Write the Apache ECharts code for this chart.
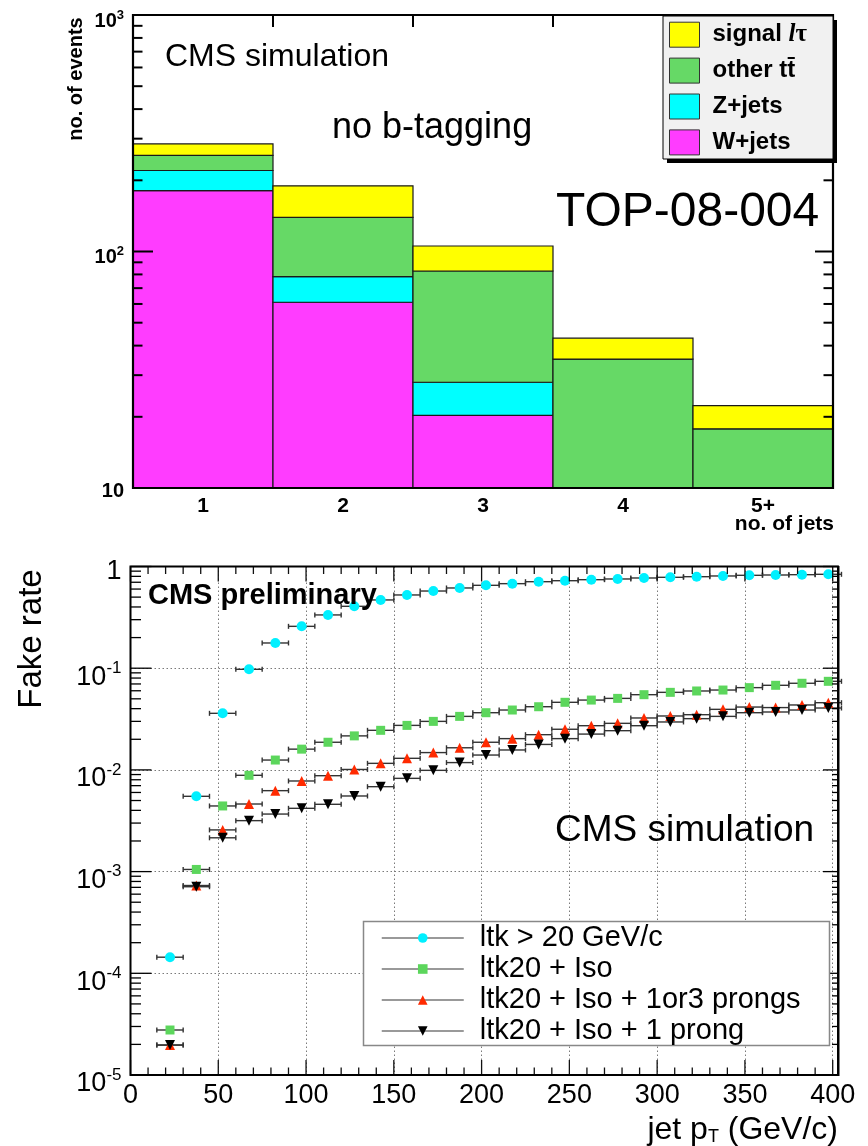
<!DOCTYPE html>
<html>
<head>
<meta charset="utf-8">
<script src="https://cdn.jsdelivr.net/npm/echarts@6/dist/echarts.min.js"></script>
<style>
  html, body { margin: 0; padding: 0; background: #fff; width: 868px; height: 1146px; overflow: hidden; }
  #chart { width: 868px; height: 1146px; }
</style>
</head>
<body>
<div id="chart"></div>
<script>
// ---------- upper panel: events per jet multiplicity (stacked) ----------
const jetBins    = ['1', '2', '3', '4', '5+'];
const wJets      = [181, 61, 20.3, 0, 0];
const zJets      = [39, 17.3, 7.7, 0, 0];
const otherTT    = [35, 61.2, 54.7, 35.1, 17.8];
const signalLTau = [30, 50, 22.8, 7.9, 4.5];
const eventMajorTicks = [100];
const eventMinorTicks = [20, 30, 40, 50, 60, 70, 80, 90, 200, 300, 400, 500, 600, 700, 800, 900];

// ---------- lower panel: fake rate vs jet pT ----------
const jetPt = [22.5, 37.5, 52.5, 67.5, 82.5, 97.5, 112.5, 127.5, 142.5, 157.5, 172.5, 187.5, 202.5,
               217.5, 232.5, 247.5, 262.5, 277.5, 292.5, 307.5, 322.5, 337.5, 352.5, 367.5, 382.5, 397.5];
const jetPtHalfBin = 7.5;
const rateLtk = [1.44e-4, 5.5e-3, 0.036, 0.0975, 0.177, 0.258, 0.334, 0.406, 0.469, 0.525, 0.574, 0.615, 0.653,
                 0.678, 0.709, 0.725, 0.742, 0.754, 0.771, 0.783, 0.794, 0.807, 0.819, 0.825, 0.831, 0.838];
const rateLtkIso = [2.77e-5, 1.05e-3, 4.42e-3, 8.85e-3, 0.0125, 0.0160, 0.0187, 0.0216, 0.0245, 0.0274, 0.0300, 0.0336, 0.0365,
                    0.0388, 0.0418, 0.0462, 0.0486, 0.0505, 0.0549, 0.0579, 0.0597, 0.0610, 0.0644, 0.0679, 0.0711, 0.0743];
const rateLtkIso13 = [1.97e-5, 7.3e-4, 2.57e-3, 4.62e-3, 6.25e-3, 7.78e-3, 8.77e-3, 0.0101, 0.0116, 0.0130, 0.0148, 0.0165, 0.0187,
                      0.0203, 0.0222, 0.0251, 0.0272, 0.0287, 0.0324, 0.0339, 0.0349, 0.0394, 0.0415, 0.0410, 0.0435, 0.0458];
const rateLtkIso1 = [1.97e-5, 7.1e-4, 2.15e-3, 3.17e-3, 3.68e-3, 4.19e-3, 4.59e-3, 5.54e-3, 6.84e-3, 8.26e-3, 9.9e-3, 0.0118, 0.0140,
                     0.0157, 0.0178, 0.0203, 0.0225, 0.0243, 0.0272, 0.0296, 0.0319, 0.0336, 0.0365, 0.0371, 0.0388, 0.0406];
const ptMajorTicks = [0, 50, 100, 150, 200, 250, 300, 350, 400];
const ptMinorTicks = [10, 20, 30, 40, 60, 70, 80, 90, 110, 120, 130, 140, 160, 170, 180, 190, 210, 220, 230, 240,
                      260, 270, 280, 290, 310, 320, 330, 340, 360, 370, 380, 390];
const rateDecades = [1e-5, 1e-4, 1e-3, 1e-2, 1e-1, 1];
const decadeSteps = [2, 3, 4, 5, 6, 7, 8, 9];

const FONT = '"Liberation Sans", Arial, Helvetica, sans-serif';
const SERIF = '"Liberation Serif", "DejaVu Serif", serif';

// stacked histogram layers, bottom to top
const layers = [
  { name: 'W+jets',    values: wJets,      color: '#ff3cff' },
  { name: 'Z+jets',    values: zJets,      color: '#00ffff' },
  { name: 'other tt̄', values: otherTT,    color: '#66d966' },
  { name: 'signal lτ', values: signalLTau, color: '#ffff00' }
];

function histRect(params, api) {
  const cs = params.coordSys;
  const i = api.value(0), lo = api.value(1), hi = api.value(2);
  const bw = api.size([1, 0])[0];
  const top = api.coord([i, hi]);
  const bottomEdge = cs.y + cs.height;
  const yLo = lo > 0 ? Math.min(api.coord([i, lo])[1], bottomEdge) : bottomEdge;
  return {
    type: 'rect',
    shape: { x: top[0] - bw / 2, y: top[1], width: bw, height: yLo - top[1] },
    style: { fill: api.visual('color'), stroke: '#1a1a1a', lineWidth: 1.2 }
  };
}

const running = jetBins.map(() => 0);
const histSeries = layers.map(layer => {
  const data = [];
  layer.values.forEach((v, i) => {
    if (v > 0) data.push([i, running[i], running[i] + v]);
    running[i] += v;
  });
  return {
    type: 'custom', name: layer.name, xAxisIndex: 0, yAxisIndex: 0,
    renderItem: histRect, encode: { x: 0, y: 2 }, data: data,
    itemStyle: { color: layer.color }, z: 1, silent: true
  };
});

// tick marks on the left/right frame edges (value, left length, right length, width, right edge)
function yTicks(params, api) {
  const cs = params.coordSys;
  const y = api.coord([api.value(0), api.value(1)])[1];
  const l = api.value(2), r = api.value(3), w = api.value(4);
  const xr = api.value(5) || (cs.x + cs.width);
  return {
    type: 'group', children: [
      { type: 'line', shape: { x1: cs.x, y1: y, x2: cs.x + l, y2: y }, style: { stroke: '#000', lineWidth: w } },
      { type: 'line', shape: { x1: xr, y1: y, x2: xr - r, y2: y }, style: { stroke: '#000', lineWidth: w } }
    ]
  };
}
// tick marks on the bottom/top frame edges and their labels (value, dummy y, length, labelled)
function xTicks(params, api) {
  const cs = params.coordSys;
  const v = api.value(0);
  const x = api.coord([v, api.value(1)])[0];
  const len = api.value(2);
  const children = [
    { type: 'line', shape: { x1: x, y1: cs.y + cs.height, x2: x, y2: cs.y + cs.height - len }, style: { stroke: '#111', lineWidth: 1.3 } },
    { type: 'line', shape: { x1: x, y1: cs.y, x2: x, y2: cs.y + len }, style: { stroke: '#111', lineWidth: 1.3 } }
  ];
  if (api.value(3) === 1) {
    children.push({ type: 'text', x: x, y: cs.y + cs.height + PT_LABEL_MARGIN,
      style: { text: String(v), font: '27px ' + FONT, fill: '#000', align: 'center', verticalAlign: 'top' } });
  }
  return { type: 'group', children: children };
}

// lower frame reaches a little past the 400 GeV/c tick
const RATE_FRAME = { x: 130.5, y: 566.5, width: 707.5, height: 508.5 };
const RATE_GRID_WIDTH = 702.2;   // 0 .. 400 GeV/c
const PT_LABEL_MARGIN = 7;

const eventTickData = eventMinorTicks.map(v => [0, v, 9.5, 9.5, 2, 0])
  .concat(eventMajorTicks.map(v => [0, v, 20, 18, 2, 0]));

const rateTickData = [];
rateDecades.forEach((d, k) => {
  rateTickData.push([0, d, 21, 15, 1.3, RATE_FRAME.x + RATE_FRAME.width]);
  if (k < rateDecades.length - 1) {
    decadeSteps.forEach(s => rateTickData.push([0, d * s, 10.5, 6, 1.3, RATE_FRAME.x + RATE_FRAME.width]));
  }
});
const ptTickData = ptMajorTicks.map(v => [v, 0.01, 15, 1]).concat(ptMinorTicks.map(v => [v, 0.01, 7.5, 0]));

// horizontal bin-width error bars with small end caps
function errBar(params, api) {
  const x = api.value(0), y = api.value(1);
  const a = api.coord([x - jetPtHalfBin, y]);
  const b = api.coord([x + jetPtHalfBin, y]);
  const st = { stroke: '#333', lineWidth: 1.4 };
  return {
    type: 'group', children: [
      { type: 'line', shape: { x1: a[0], y1: a[1], x2: b[0], y2: b[1] }, style: st },
      { type: 'line', shape: { x1: a[0], y1: a[1] - 2.5, x2: a[0], y2: a[1] + 2.5 }, style: st },
      { type: 'line', shape: { x1: b[0], y1: b[1] - 2.5, x2: b[0], y2: b[1] + 2.5 }, style: st }
    ]
  };
}

const rateSets = [
  { name: 'ltk > 20 GeV/c',            values: rateLtk,      color: '#00f0ff', symbol: 'circle',   size: 10, rotate: 0 },
  { name: 'ltk20 + Iso',               values: rateLtkIso,   color: '#5cd65c', symbol: 'rect',     size: 9,  rotate: 0 },
  { name: 'ltk20 + Iso + 1or3 prongs', values: rateLtkIso13, color: '#ff2a00', symbol: 'triangle', size: 10, rotate: 0 },
  { name: 'ltk20 + Iso + 1 prong',     values: rateLtkIso1,  color: '#000000', symbol: 'triangle', size: 10, rotate: 180 }
];

const rateSeries = [];
rateSets.forEach(s => {
  rateSeries.push({
    type: 'custom', xAxisIndex: 2, yAxisIndex: 1, renderItem: errBar,
    encode: { x: 0, y: 1 }, data: jetPt.map((x, i) => [x, s.values[i]]), z: 3, silent: true
  });
});
rateSets.forEach(s => {
  rateSeries.push({
    type: 'line', name: s.name, xAxisIndex: 2, yAxisIndex: 1,
    data: jetPt.map((x, i) => [x, s.values[i]]),
    symbol: s.symbol, symbolSize: s.size, symbolRotate: s.rotate, showAllSymbol: true,
    lineStyle: { opacity: 0 }, itemStyle: { color: s.color }, z: 4, silent: true
  });
});

const supRichTop = {
  b:   { fontFamily: FONT, fontWeight: 'bold', fontSize: 20, lineHeight: 20, verticalAlign: 'bottom', color: '#000' },
  s:   { fontFamily: FONT, fontWeight: 'bold', fontSize: 13, lineHeight: 32, color: '#000' },
  one: { fontFamily: FONT, fontWeight: 'bold', fontSize: 20, lineHeight: 20, padding: [7, 0, 0, 0], color: '#000' }
};
const supRichBottom = {
  b:   { fontFamily: FONT, fontSize: 27, lineHeight: 27, verticalAlign: 'bottom', color: '#000' },
  s:   { fontFamily: FONT, fontSize: 17, lineHeight: 45, color: '#000' },
  one: { fontFamily: FONT, fontSize: 27, lineHeight: 27, padding: [10, 0, 0, 0], color: '#000' }
};

const option = {
  animation: false,
  backgroundColor: '#fff',
  grid: [
    { left: 133, top: 15, width: 700, height: 473, show: true, borderColor: '#000', borderWidth: 2.2, backgroundColor: 'transparent', z: 3 },
    { left: RATE_FRAME.x, top: RATE_FRAME.y, width: RATE_GRID_WIDTH, height: RATE_FRAME.height, show: false }
  ],
  xAxis: [
    { gridIndex: 0, type: 'category', data: jetBins, position: 'bottom',
      axisLine: { show: false },
      axisTick: { show: true, inside: true, length: 13, lineStyle: { color: '#000', width: 2 } },
      axisLabel: { fontFamily: FONT, fontWeight: 'bold', fontSize: 21, color: '#000', margin: 8 },
      splitLine: { show: false } },
    { gridIndex: 0, type: 'category', data: jetBins, position: 'top',
      axisLine: { show: false },
      axisTick: { show: true, inside: true, length: 12, lineStyle: { color: '#000', width: 2 } },
      axisLabel: { show: false }, splitLine: { show: false } },
    { gridIndex: 1, type: 'value', min: 0, max: ptMajorTicks[ptMajorTicks.length - 1], interval: 50,
      axisLine: { show: false }, axisTick: { show: false }, axisLabel: { show: false },
      splitLine: { show: true, lineStyle: { color: '#7a7a7a', width: 1, type: [1.5, 2.5] } } }
  ],
  yAxis: [
    { gridIndex: 0, type: 'log', logBase: 10, min: 10, max: 1000,
      axisLine: { show: false }, axisTick: { show: false }, splitLine: { show: false },
      axisLabel: { margin: 9, rich: supRichTop,
        formatter: v => { const e = Math.round(Math.log10(v)); return e === 1 ? '{one|10}' : '{b|10}{s|' + e + '}'; } } },
    { gridIndex: 1, type: 'log', logBase: 10, min: 1e-5, max: 1,
      axisLine: { show: false }, axisTick: { show: false },
      splitLine: { show: true, lineStyle: { color: '#7a7a7a', width: 1, type: [1.5, 2.5] } },
      axisLabel: { margin: 9, rich: supRichBottom,
        formatter: v => { const e = Math.round(Math.log10(v)); return e === 0 ? '{one|1}' : '{b|10}{s|' + e + '}'; } } }
  ],
  legend: [
    { orient: 'vertical', left: 669, top: 21.7, padding: 0, itemWidth: 30, itemHeight: 25, itemGap: 9.9, icon: 'rect',
      data: ['signal lτ', 'other tt̄', 'Z+jets', 'W+jets'], selectedMode: false, z: 8,
      itemStyle: { borderColor: '#333', borderWidth: 1 },
      textStyle: { fontFamily: FONT, fontWeight: 'bold', fontSize: 24, lineHeight: 25, color: '#000', padding: [0, 0, 0, 8],
        rich: {
          it:  { fontFamily: SERIF, fontStyle: 'italic', fontSize: 25, lineHeight: 25, color: '#000' },
          tau: { fontFamily: SERIF, fontSize: 25, lineHeight: 25, color: '#000' }
        } },
      formatter: n => (n === 'signal lτ' ? 'signal {it|l}{tau|τ}' : n) },
    { orient: 'vertical', left: 381, top: 922.5, padding: 0, itemWidth: 82, itemHeight: 12, itemGap: 0,
      data: rateSets.map(s => s.name), selectedMode: false, z: 8,
      lineStyle: { color: '#777', width: 1.5, opacity: 1 },
      textStyle: { fontFamily: FONT, fontSize: 29, color: '#000', lineHeight: 31, padding: [0, 0, 0, 11] } }
  ],
  graphic: [
    // frame of the lower panel
    { id: 'rateFrame', type: 'rect', shape: RATE_FRAME, style: { fill: 'none', stroke: '#000', lineWidth: 2 }, z: 6, silent: true },
    { id: 'rateFrameRight', type: 'line', shape: { x1: 838.5, y1: 566, x2: 838.5, y2: 1076 }, style: { stroke: '#000', lineWidth: 2 }, z: 6, silent: true },
    // upper legend frame with drop shadow
    { id: 'legShadow', type: 'rect', shape: { x: 667, y: 20, width: 170, height: 143 }, style: { fill: '#000' }, z: 6 },
    { id: 'legBox', type: 'rect', shape: { x: 663, y: 16, width: 170, height: 143 }, style: { fill: '#f1f1f1', stroke: '#000', lineWidth: 1 }, z: 6 },
    // lower legend frame
    { id: 'legBox2', type: 'rect', shape: { x: 363.5, y: 921.5, width: 466, height: 124 }, style: { fill: '#fff', stroke: '#888', lineWidth: 1.5 }, z: 6 },
    { id: 't1', type: 'text', left: 165, top: 41, style: { text: 'CMS simulation', font: '32px ' + FONT, fill: '#000' }, z: 7 },
    { id: 't2', type: 'text', left: 332, top: 110, style: { text: 'no b-tagging', font: '36px ' + FONT, fill: '#000' }, z: 7 },
    { id: 't3', type: 'text', left: 556, top: 189, style: { text: 'TOP-08-004', font: '48px ' + FONT, fill: '#000' }, z: 7 },
    { id: 't4', type: 'text', x: 76, y: 79, rotation: Math.PI / 2,
      style: { text: 'no. of events', font: 'bold 20px ' + FONT, fill: '#000', align: 'center', verticalAlign: 'middle' }, z: 7 },
    { id: 't5', type: 'text', x: 834, y: 524,
      style: { text: 'no. of jets', font: 'bold 21px ' + FONT, fill: '#000', align: 'right', verticalAlign: 'middle' }, z: 7 },
    { id: 't6', type: 'text', left: 148, top: 581, style: { text: 'CMS preliminary', font: 'bold 29px ' + FONT, fill: '#000' }, z: 7 },
    { id: 't7', type: 'text', left: 555, top: 812, style: { text: 'CMS simulation', font: '37px ' + FONT, fill: '#000' }, z: 7 },
    { id: 't8', type: 'text', x: 32, y: 639, rotation: Math.PI / 2,
      style: { text: 'Fake rate', font: '33px ' + FONT, fill: '#000', align: 'center', verticalAlign: 'middle' }, z: 7 },
    { id: 't9', type: 'text', x: 838, y: 1130,
      style: { text: '{a|jet p}{sub|T}{a| (GeV/c)}', align: 'right', verticalAlign: 'middle',
        rich: {
          a:   { fontFamily: FONT, fontSize: 32, lineHeight: 32, verticalAlign: 'top', color: '#000' },
          sub: { fontFamily: FONT, fontSize: 18, lineHeight: 18, verticalAlign: 'bottom', padding: [22, 0, 0, 0], color: '#000' }
        } }, z: 7 }
  ],
  series: histSeries.concat([
    { type: 'custom', xAxisIndex: 0, yAxisIndex: 0, renderItem: yTicks, encode: { x: 0, y: 1 },
      data: eventTickData, z: 5, silent: true },
    { type: 'custom', xAxisIndex: 2, yAxisIndex: 1, renderItem: yTicks, encode: { x: 0, y: 1 },
      data: rateTickData, z: 5, silent: true },
    { type: 'custom', xAxisIndex: 2, yAxisIndex: 1, renderItem: xTicks, encode: { x: 0, y: 1 },
      data: ptTickData, z: 5, silent: true, clip: false }
  ]).concat(rateSeries)
};

const chart = echarts.init(document.getElementById('chart'), null, { renderer: 'canvas', width: 868, height: 1146 });
chart.setOption(option);
</script>
</body>
</html>
